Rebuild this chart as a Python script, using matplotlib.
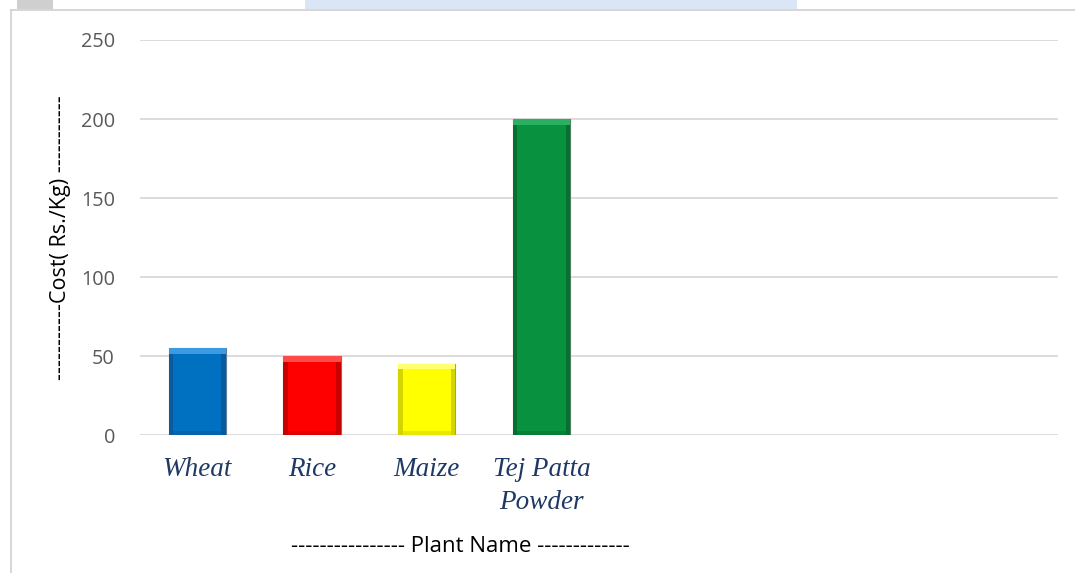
import matplotlib
matplotlib.use("Agg")
import matplotlib.pyplot as plt
from matplotlib.patches import Rectangle

categories = ["Wheat", "Rice", "Maize", "Tej Patta\nPowder", "", "", "", ""]
values = [55, 50, 45, 200]
bar_colors = ["#0070C0", "#FF0000", "#FFFF00", "#08913F"]
light_colors = ["#3A9BE0", "#FF4A4A", "#FFFF70", "#2BB062"]
dark_colors = ["#0A5A9C", "#C80000", "#D4D400", "#067032"]
edge_colors = ["#5F7F9F", "#A06060", "#A0A060", "#4F7F5F"]
yticks = [0, 50, 100, 150, 200, 250]

fig = plt.figure(figsize=(10.75, 5.73), dpi=100)
ax = fig.add_axes([0.1302, 0.2408, 0.984 - 0.1302, 0.9302 - 0.2408])

x = list(range(len(categories)))
xb = x[:len(values)]
w = 0.5
ax.bar(xb, values, width=w, color=bar_colors, edgecolor=edge_colors,
       linewidth=0.8, zorder=3)
# bevel effect: darker sides, lighter top, darker base
side = 0.04
ax.bar([xi - w / 2 + side / 2 for xi in xb], values, width=side,
       color=dark_colors, linewidth=0, zorder=4)
ax.bar([xi + w / 2 - side / 2 for xi in xb], values, width=side,
       color=dark_colors, linewidth=0, zorder=4)
ax.bar(xb, [3.5] * len(values), bottom=[v - 3.5 for v in values], width=w,
       color=light_colors, linewidth=0, zorder=5)
ax.bar(xb, [2.5] * len(values), width=w - 2 * side, color=dark_colors,
       linewidth=0, zorder=4, alpha=0.5)

ax.set_xlim(-0.5, len(categories) - 0.5)
ax.set_ylim(0, 250)
ax.set_yticks(yticks)
ax.set_yticklabels([str(t) for t in yticks], fontfamily="Open Sans",
                   fontsize=14.3, color="#595959")
ax.set_xticks(x)
ax.set_xticklabels(categories, fontfamily="Liberation Serif", style="italic",
                   fontsize=19.5, color="#1F3864", linespacing=1.4)
ax.tick_params(axis="both", length=0)
ax.tick_params(axis="y", pad=18)
ax.tick_params(axis="x", pad=16)
ax.grid(axis="y", color="#D9D9D9", linewidth=1.3, zorder=0)
for s in ax.spines.values():
    s.set_visible(False)

ax.set_ylabel("-----------Cost( Rs./Kg) -----------", fontfamily="Open Sans",
              fontsize=15.5, color="black", labelpad=7)
fig.text(460 / 1075, 1 - 546 / 573, "---------------- Plant Name -------------",
         fontfamily="Open Sans", fontsize=16, color="black",
         ha="center", va="center")

# page decorations
fig.add_artist(Rectangle((305 / 1075, 1 - 9 / 573), 492 / 1075, 9 / 573,
                         transform=fig.transFigure, color="#DAE5F5", lw=0))
fig.add_artist(Rectangle((17 / 1075, 1 - 9 / 573), 36 / 1075, 9 / 573,
                         transform=fig.transFigure, color="#CFCFCF", lw=0))
fig.add_artist(plt.Line2D([11 / 1075, 11 / 1075], [0, 1 - 10 / 573],
                          transform=fig.transFigure, color="#D0D0D0", lw=1.2))
fig.add_artist(plt.Line2D([11 / 1075, 1], [1 - 10 / 573, 1 - 10 / 573],
                          transform=fig.transFigure, color="#D0D0D0", lw=1.2))

fig.savefig("out.png", dpi=100)
